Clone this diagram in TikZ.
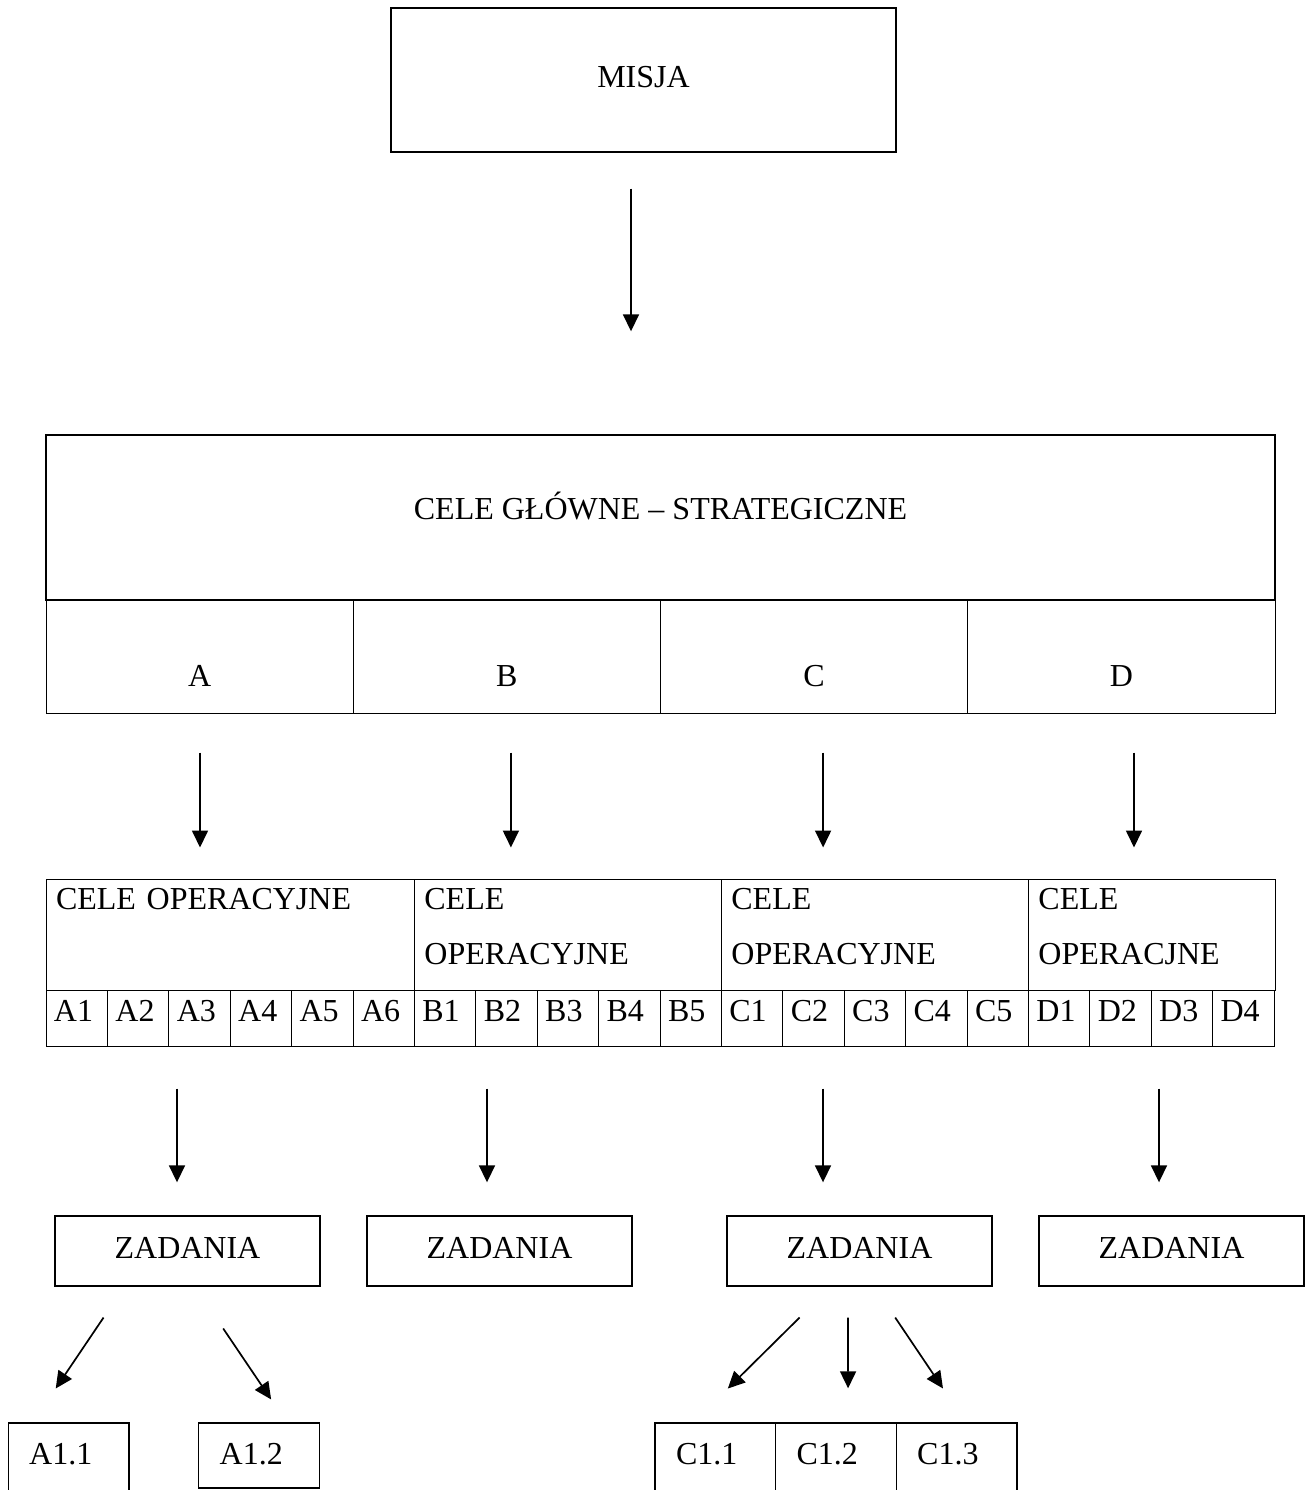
\documentclass[tikz,border=0pt]{standalone}
\usepackage{fontspec}
\setmainfont{Liberation Serif}
\usetikzlibrary{arrows.meta, calc}

\begin{document}
\begin{tikzpicture}[
  x=0.5pt, y=-0.5pt,
  every node/.style={font=\fontsize{16}{27.5}\selectfont, inner sep=0pt},
  box/.style={draw, line width=0.7pt},
  cell/.style={draw, line width=0.5pt},
  baza/.style={text height=#1, text depth=0pt},
  lewy/.style={align=left, text width=#1},
  kom/.style={
    cell, minimum width=30.7pt, minimum height=28pt,
    lewy=22.7pt, baza=3pt
  },
  zad/.style={
    box, minimum width=132.5pt, minimum height=35pt, baza=7pt
  },
  dol/.style={box, minimum width=60.3pt, lewy=39.3pt},
  arr/.style={
    -{Triangle[length=8.5pt, width=8pt]},
    line width=0.85pt
  }
]
\clip (0,0) rectangle (1308,1490);

%% ── Misja ────────────────────────────────────────────────────────────────
\node[box, minimum width=252.5pt, minimum height=72pt, baza=7pt] (misja)
  at (643.5, 80) {MISJA};

%% ── Cele główne i kolumny A–D ───────────────────────────────────────────
\node[box, minimum width=614.5pt, minimum height=82.5pt, baza=2pt] (glowne)
  at (660.5, 517.5) {CELE GŁÓWNE – STRATEGICZNE};

\node[cell, minimum width=153.6pt, minimum height=56.5pt, baza=30pt] (ca)
  at (199.6, 656.5) {A};
\node[cell, minimum width=153.6pt, minimum height=56.5pt, baza=30pt] (cb)
  at (506.9, 656.5) {B};
\node[cell, minimum width=153.6pt, minimum height=56.5pt, baza=30pt] (cc)
  at (814.1, 656.5) {C};
\node[cell, minimum width=153.6pt, minimum height=56.5pt, baza=30pt] (cd)
  at (1121.4, 656.5) {D};

%% ── Cele operacyjne ─────────────────────────────────────────────────────
%% tekst od góry komórki: text height=0, text depth=25.5pt
\node[cell, minimum width=184.2pt, minimum height=55.5pt, lewy=174.2pt,
      text height=0pt, text depth=25.5pt] (opa)
  at (230.2, 934.5) {CELE OPERACYJNE};
\node[cell, minimum width=153.5pt, minimum height=55.5pt, lewy=143.5pt,
      text height=0pt, text depth=25.5pt] (opb)
  at (567.9, 934.5) {CELE\\OPERACYJNE};
\node[cell, minimum width=153.5pt, minimum height=55.5pt, lewy=143.5pt,
      text height=0pt, text depth=25.5pt] (opc)
  at (874.9, 934.5) {CELE\\OPERACYJNE};
\node[cell, minimum width=123.3pt, minimum height=55.5pt, lewy=113.3pt,
      text height=0pt, text depth=25.5pt] (opd)
  at (1151.7, 934.5) {CELE\\OPERACJNE};

%% komórki A1 ... D4 (szer. 61.4)
\node[kom] (a1) at (76.7, 1018) {A1};
\node[kom] (a2) at (138.1, 1018) {A2};
\node[kom] (a3) at (199.5, 1018) {A3};
\node[kom] (a4) at (260.9, 1018) {A4};
\node[kom] (a5) at (322.3, 1018) {A5};
\node[kom] (a6) at (383.7, 1018) {A6};

\node[kom] (b1) at (445.1, 1018) {B1};
\node[kom] (b2) at (506.5, 1018) {B2};
\node[kom] (b3) at (567.9, 1018) {B3};
\node[kom] (b4) at (629.3, 1018) {B4};
\node[kom] (b5) at (690.7, 1018) {B5};

\node[kom] (c1) at (752.1, 1018) {C1};
\node[kom] (c2) at (813.5, 1018) {C2};
\node[kom] (c3) at (874.9, 1018) {C3};
\node[kom] (c4) at (936.3, 1018) {C4};
\node[kom] (c5) at (997.7, 1018) {C5};

\node[kom] (d1) at (1059.1, 1018) {D1};
\node[kom] (d2) at (1120.5, 1018) {D2};
\node[kom] (d3) at (1181.9, 1018) {D3};
\node[kom] (d4) at (1243.3, 1018) {D4};

%% ── Zadania ─────────────────────────────────────────────────────────────
\node[zad] (za) at (187.5, 1251)  {ZADANIA};
\node[zad] (zb) at (499.5, 1251)  {ZADANIA};
\node[zad] (zc) at (859.5, 1251)  {ZADANIA};
\node[zad] (zd) at (1171.5, 1251) {ZADANIA};

%% ── Zadania szczegółowe (dół ucięty) ────────────────────────────────────
\node[dol, minimum height=37.5pt, baza=3.5pt] (a11) at (68.5, 1460.5)  {A1.1};
\node[dol, minimum height=32.5pt, baza=8.5pt] (a12) at (259, 1455.5)   {A1.2};
\node[dol, minimum height=37.5pt, baza=3.5pt] (c11) at (715.3, 1460.5) {C1.1};
\node[dol, minimum height=37.5pt, baza=3.5pt] (c12) at (835.9, 1460.5) {C1.2};
\node[dol, minimum height=37.5pt, baza=3.5pt] (c13) at (956.5, 1460.5) {C1.3};

%% ── Strzałki ────────────────────────────────────────────────────────────
\draw[arr, shorten <=18pt, shorten >=51.5pt]
  ([xshift=-6.25pt]misja.south) -- ([xshift=-6.25pt]misja.south |- glowne.north);

\draw[arr, shorten <=19.5pt, shorten >=15.5pt]
  ([xshift=0.2pt]ca.south) -- ([xshift=0.2pt]ca.south |- opa.north);
\draw[arr, shorten <=19.5pt, shorten >=15.5pt]
  ([xshift=2pt]cb.south) -- ([xshift=2pt]cb.south |- opb.north);
\draw[arr, shorten <=19.5pt, shorten >=15.5pt]
  ([xshift=4.5pt]cc.south) -- ([xshift=4.5pt]cc.south |- opc.north);
\draw[arr, shorten <=19.5pt, shorten >=15.5pt]
  ([xshift=6.3pt]cd.south) -- ([xshift=6.3pt]cd.south |- opd.north);

\draw[arr, shorten <=21pt, shorten >=16.5pt]
  ([xshift=-5.25pt]za.north |- a1.south) -- ([xshift=-5.25pt]za.north);
\draw[arr, shorten <=21pt, shorten >=16.5pt]
  ([xshift=-6.25pt]zb.north |- a1.south) -- ([xshift=-6.25pt]zb.north);
\draw[arr, shorten <=21pt, shorten >=16.5pt]
  ([xshift=-18.25pt]zc.north |- a1.south) -- ([xshift=-18.25pt]zc.north);
\draw[arr, shorten <=21pt, shorten >=16.5pt]
  ([xshift=-6.25pt]zd.north |- a1.south) -- ([xshift=-6.25pt]zd.north);

%% zadania -> zadania szczegółowe
\draw[arr, shorten <=18.6pt, shorten >=20.4pt]
  ($(za.south west)!0.263!(za.south east)$) -- ($(a11.north west)!0.208!(a11.north east)$);
\draw[arr, shorten <=25.2pt, shorten >=13.8pt]
  ($(za.south west)!0.528!(za.south east)$) -- ($(a12.north west)!0.726!(a12.north east)$);
\draw[arr, shorten <=21.9pt, shorten >=24pt]
  ($(zc.south west)!0.392!(zc.south east)$) -- ($(c11.north west)!0.323!(c11.north east)$);
\draw[arr, shorten <=15.5pt, shorten >=17pt]
  ($(zc.south west)!0.457!(zc.south east)$) -- ($(c12.north west)!0.6!(c12.north east)$);
\draw[arr, shorten <=18.6pt, shorten >=20.4pt]
  ($(zc.south west)!0.556!(zc.south east)$) -- ($(c13.north west)!0.576!(c13.north east)$);

\end{tikzpicture}
\end{document}
